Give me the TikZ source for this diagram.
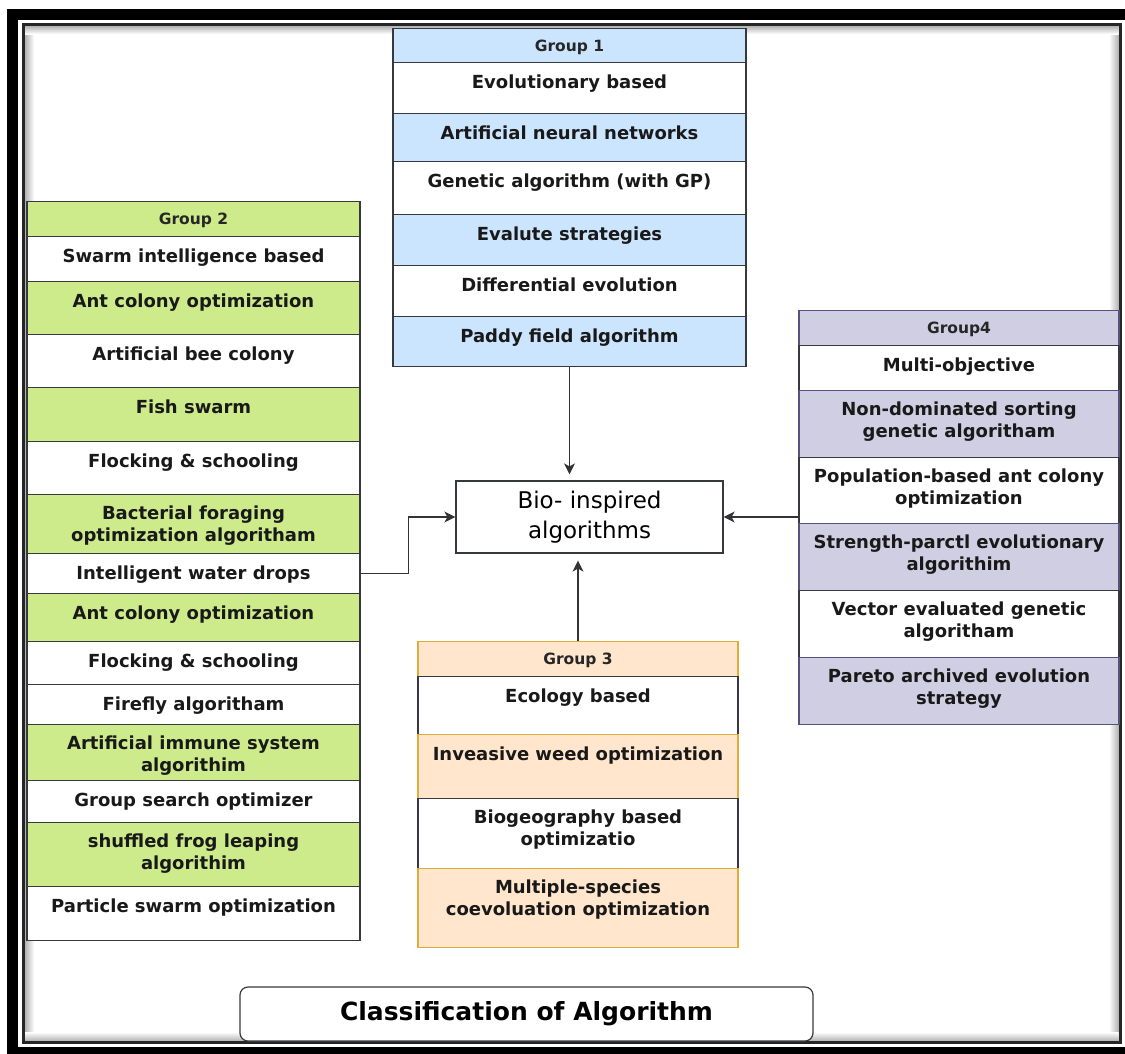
\documentclass[tikz,border=0pt]{standalone}
\usepackage{fontspec}
\setmainfont{DejaVu Sans}
\usetikzlibrary{arrows.meta, positioning}
\definecolor{edge1}{HTML}{36393D}
\definecolor{blue1}{HTML}{CCE5FF}
\definecolor{green1}{HTML}{CDEB8B}
\definecolor{orange1}{HTML}{FFE6CC}
\definecolor{orange2}{HTML}{E0AC3A}
\definecolor{purple1}{HTML}{D0CEE2}
\definecolor{purple2}{HTML}{56517E}

\begin{document}
\begin{tikzpicture}[x=1pt, y=-1pt, >={Stealth[length=11pt,width=11pt,inset=3pt]}]
  \tikzstyle{cell}=[draw=edge1, line width=1.2pt, anchor=north, inner sep=0pt, fill=white]
  \tikzstyle{celltext}=[anchor=north, inner sep=0pt, yshift=-12pt, align=center,
                        text=black!90, font=\bfseries\fontsize{18}{22}\selectfont,
                        execute at begin node={\rule{0pt}{14.4pt}}]
  \tikzstyle{head}=[cell, font=\bfseries\fontsize{15.5}{18}\selectfont, text=black!85,
                    text height=11.3pt, text depth=0pt]
  \tikzstyle{grpA}=[minimum width=353pt]
  \tikzstyle{grpB}=[minimum width=333pt]
  \tikzstyle{grpC}=[minimum width=320pt]
  \tikzstyle{grpD}=[minimum width=320pt]
  \tikzstyle{link}=[->, line width=1.3pt, black!80]
  \useasboundingbox (0,0) rectangle (1125,1053);

  % frame
  \fill[white] (0,0) rectangle (1125,1053);
  \shade[left color=black!30, right color=white] (25,26) rectangle (34,1041);
  \shade[left color=white, right color=black!30] (1109,26) rectangle (1118.5,1041);
  \shade[top color=black!30, bottom color=white] (25,26) rectangle (1118.5,34);
  \shade[top color=white, bottom color=black!30] (25,1032) rectangle (1118.5,1041);
  \draw[line width=11pt] (12.5,14.5) rectangle (1131,1052.5);
  \draw[line width=3pt, black!85] (23.5,24.5) rectangle (1120,1042.5);

  % group 1
  \node[head, grpA, fill=blue1, minimum height=34pt] (head1) at (569.5,28) {Group 1};
  \node[cell, grpA, minimum height=51pt, label={[celltext, name=evo-t]north:{Evolutionary based}}] (evo) at (569.5,62) {};
  \node[cell, grpA, fill=blue1, minimum height=48pt, label={[celltext, name=ann-t]north:{Artificial neural networks}}] (ann) at (569.5,113) {};
  \node[cell, grpA, minimum height=53pt, label={[celltext, name=gen-t]north:{Genetic algorithm (with GP)}}] (gen) at (569.5,161) {};
  \node[cell, grpA, fill=blue1, minimum height=51pt, label={[celltext, name=evs-t]north:{Evalute strategies}}] (evs) at (569.5,214) {};
  \node[cell, grpA, minimum height=51pt, label={[celltext, name=dif-t]north:{Differential evolution}}] (dif) at (569.5,265) {};
  \node[cell, grpA, fill=blue1, minimum height=50pt, label={[celltext, name=pad-t]north:{Paddy field algorithm}}] (pad) at (569.5,316) {};

  % group 2
  \node[head, grpB, fill=green1, minimum height=35pt] (head2) at (193.5,201) {Group 2};
  \node[cell, grpB, minimum height=45pt, label={[celltext, name=swarm-t]north:{Swarm intelligence based}}] (swarm) at (193.5,236) {};
  \node[cell, grpB, fill=green1, minimum height=53pt, label={[celltext, name=aco1-t]north:{Ant colony optimization}}] (aco1) at (193.5,281) {};
  \node[cell, grpB, minimum height=53pt, label={[celltext, name=abc-t]north:{Artificial bee colony}}] (abc) at (193.5,334) {};
  \node[cell, grpB, fill=green1, minimum height=54pt, label={[celltext, name=fish-t]north:{Fish swarm}}] (fish) at (193.5,387) {};
  \node[cell, grpB, minimum height=53pt, label={[celltext, name=flock1-t]north:{Flocking \& schooling}}] (flock1) at (193.5,441) {};
  \node[cell, grpB, fill=green1, minimum height=59pt, label={[celltext, name=bfo-t]north:{Bacterial foraging\\optimization algoritham}}] (bfo) at (193.5,494) {};
  \node[cell, grpB, minimum height=40pt, label={[celltext, name=iwd-t]north:{Intelligent water drops}}] (iwd) at (193.5,553) {};
  \node[cell, grpB, fill=green1, minimum height=48pt, label={[celltext, name=aco2-t]north:{Ant colony optimization}}] (aco2) at (193.5,593) {};
  \node[cell, grpB, minimum height=43pt, label={[celltext, name=flock2-t]north:{Flocking \& schooling}}] (flock2) at (193.5,641) {};
  \node[cell, grpB, minimum height=40pt, label={[celltext, name=firefly-t]north:{Firefly algoritham}}] (firefly) at (193.5,684) {};
  \node[cell, grpB, fill=green1, minimum height=56pt, label={[celltext, name=ais-t]north:{Artificial immune system\\algorithim}}] (ais) at (193.5,724) {};
  \node[cell, grpB, minimum height=42pt, label={[celltext, name=gso-t]north:{Group search optimizer}}] (gso) at (193.5,780) {};
  \node[cell, grpB, fill=green1, minimum height=64pt, label={[celltext, name=sfl-t]north:{shuffled frog leaping\\algorithim}}] (sfl) at (193.5,822) {};
  \node[cell, grpB, minimum height=54pt, label={[celltext, name=pso-t]north:{Particle swarm optimization}}] (pso) at (193.5,886) {};

  % group 3
  \node[head, grpC, draw=orange2, fill=orange1, minimum height=35pt] (head3) at (578,641) {Group 3};
  \node[cell, grpC, minimum height=58pt, label={[celltext, name=eco-t]north:{Ecology based}}] (eco) at (578,676) {};
  \node[cell, grpC, draw=orange2, fill=orange1, minimum height=64pt, label={[celltext, name=iwo-t]north:{Inveasive weed optimization}}] (iwo) at (578,734) {};
  \node[cell, grpC, minimum height=70pt, label={[celltext, name=bbo-t]north:{Biogeography based\\optimizatio}}] (bbo) at (578,798) {};
  \node[cell, grpC, draw=orange2, fill=orange1, minimum height=79pt, label={[celltext, name=msco-t]north:{Multiple-species\\coevoluation optimization}}] (msco) at (578,868) {};

  % group 4
  \node[head, grpD, draw=purple2, fill=purple1, minimum height=35pt] (head4) at (959,310) {Group4};
  \node[cell, grpD, minimum height=45pt, label={[celltext, name=multi-t]north:{Multi-objective}}] (multi) at (959,345) {};
  \node[cell, grpD, draw=purple2, fill=purple1, minimum height=67pt, label={[celltext, name=nsga-t]north:{Non-dominated sorting\\genetic algoritham}}] (nsga) at (959,390) {};
  \node[cell, grpD, minimum height=66pt, label={[celltext, name=paco-t]north:{Population-based ant colony\\optimization}}] (paco) at (959,457) {};
  \node[cell, grpD, draw=purple2, fill=purple1, minimum height=67pt, label={[celltext, name=spea-t]north:{Strength-parctl evolutionary\\algorithim}}] (spea) at (959,523) {};
  \node[cell, grpD, minimum height=67pt, label={[celltext, name=vega-t]north:{Vector evaluated genetic\\algoritham}}] (vega) at (959,590) {};
  \node[cell, grpD, draw=purple2, fill=purple1, minimum height=67pt, label={[celltext, name=paes-t]north:{Pareto archived evolution\\strategy}}] (paes) at (959,657) {};

  % centre and title
  \node[draw=edge1, line width=1.2pt, fill=white, minimum width=267pt, minimum height=72pt,
        align=center, font=\fontsize{23}{30}\selectfont] (bio) at (589.5,517) {Bio- inspired\\algorithms};
  \node[draw=edge1, line width=1.2pt, fill=white, rounded corners=8pt, minimum width=573pt,
        minimum height=54pt, font=\bfseries\fontsize{25}{30}\selectfont] (title) at (526.5,1014) {Classification of Algorithm};

  % connectors
  \draw[link, shorten >=6pt] (pad.south) -- (pad.south |- bio.north);
  \draw[link, shorten >=7pt] (head3.north) -- (head3.north |- bio.south);
  \draw[link] (iwd.east) -- ++(48,0) |- (bio.west);
  \draw[link] (paco.west |- bio.east) -- (bio.east);
\end{tikzpicture}
\end{document}
